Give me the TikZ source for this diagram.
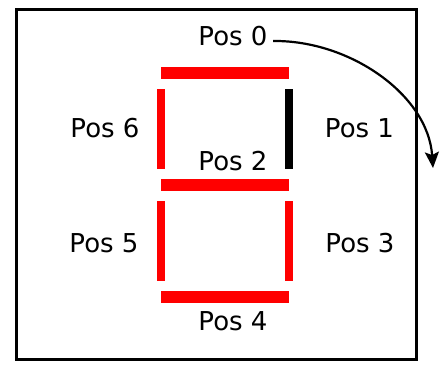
\documentclass[tikz,border=0pt]{standalone}
\usepackage{fontspec}
\setmainfont{DejaVu Sans}
\usetikzlibrary{arrows.meta}
\tikzset{
  seglit/.style={fill=red, draw=none},
  segoff/.style={fill=black, draw=none},
  poslabel/.style={font=\fontsize{26}{30}\selectfont, anchor=base, inner sep=0pt},
  frame/.style={draw=black, line width=2.2pt},
  flow/.style={draw=black, line width=2.2pt, -{Stealth[length=16pt,width=14pt,inset=3pt]}}
}
\begin{document}
\begin{tikzpicture}[x=1pt,y=-1pt]
  \useasboundingbox (0,0) rectangle (442,368);
  % outer frame
  \draw[frame] (16.5,9.5) rectangle (416.5,359.5);
  % horizontal segments
  \fill[seglit] (161,67) rectangle (289,79);
  \fill[seglit] (161,179) rectangle (289,191);
  \fill[seglit] (161,291) rectangle (289,303);
  % vertical segments
  \fill[seglit] (157,89) rectangle (165,169);
  \fill[segoff] (285,89) rectangle (293,169);
  \fill[seglit] (157,201) rectangle (165,281);
  \fill[seglit] (285,201) rectangle (293,281);
  % position labels
  \node[poslabel] (p0) at (233,45.5) {Pos 0};
  \node[poslabel] (p1) at (359.5,137.5) {Pos 1};
  \node[poslabel] (p2) at (233,170) {Pos 2};
  \node[poslabel] (p3) at (360,252) {Pos 3};
  \node[poslabel] (p4) at (233,330) {Pos 4};
  \node[poslabel] (p5) at (104,252) {Pos 5};
  \node[poslabel] (p6) at (105,137.5) {Pos 6};
  % rotation arrow
  \coordinate (start) at (273,41);
  \coordinate (finish) at (433,168);
  \draw[flow] (start) .. controls (350,40) and (428,95) .. (finish);
\end{tikzpicture}
\end{document}
